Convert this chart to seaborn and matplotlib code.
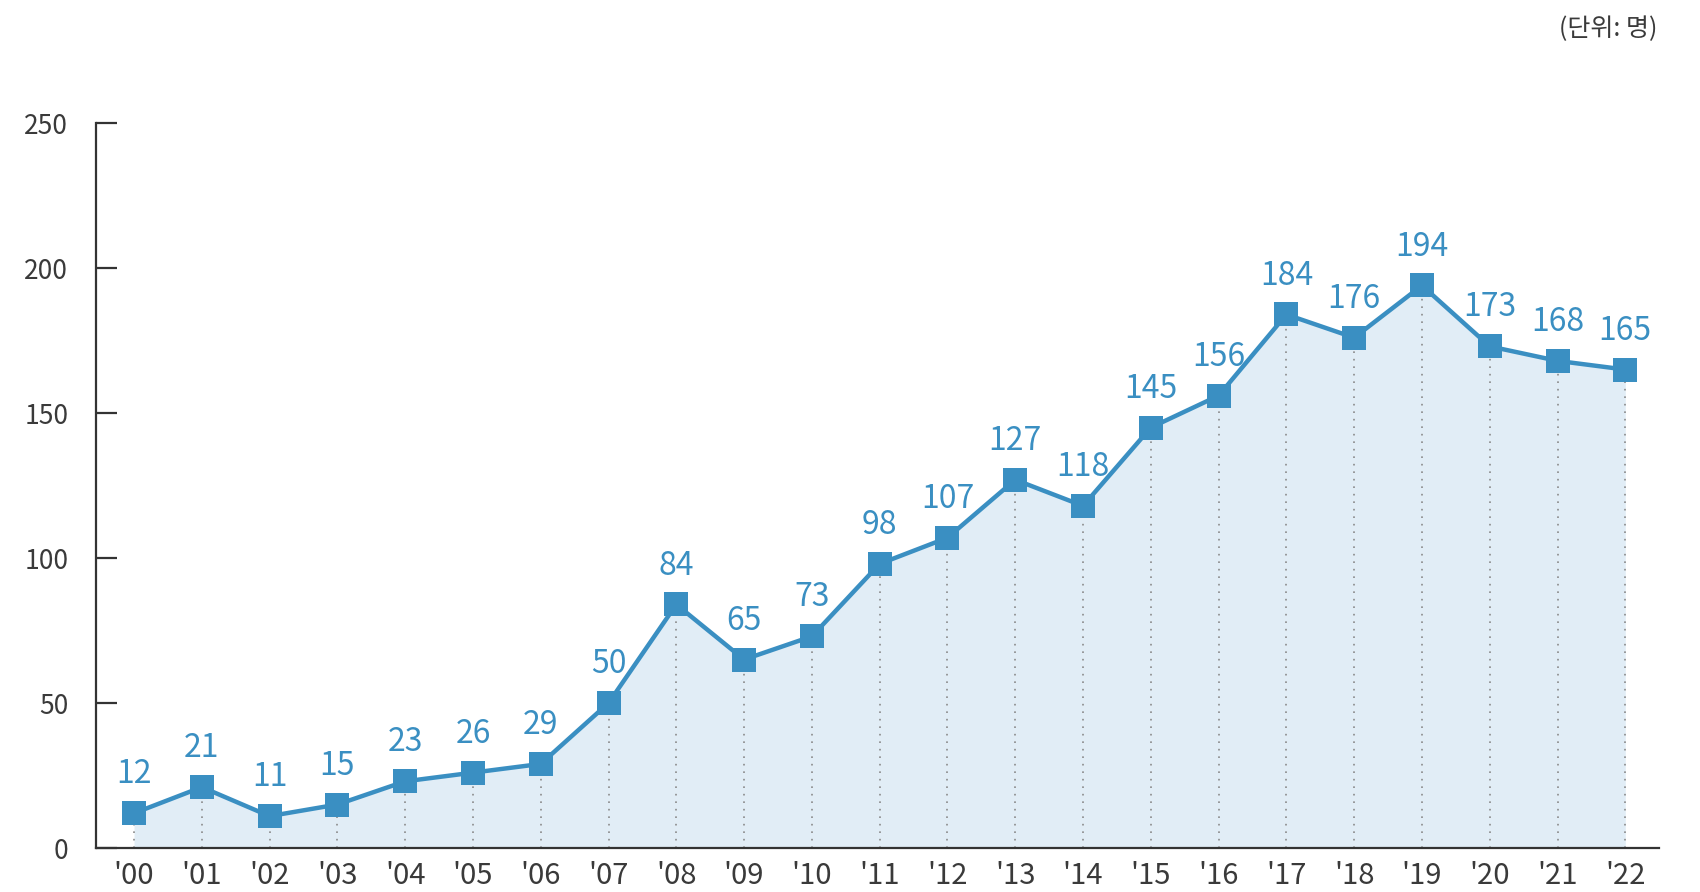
import matplotlib
matplotlib.use("Agg")
import matplotlib.pyplot as plt
import seaborn as sns
import pandas as pd

years = ["'00", "'01", "'02", "'03", "'04", "'05", "'06", "'07", "'08", "'09", "'10", "'11",
         "'12", "'13", "'14", "'15", "'16", "'17", "'18", "'19", "'20", "'21", "'22"]
counts = [12, 21, 11, 15, 23, 26, 29, 50, 84, 65, 73, 98,
          107, 127, 118, 145, 156, 184, 176, 194, 173, 168, 165]
y_ticks = [0, 50, 100, 150, 200, 250]
unit_label = "(단위: 명)"

sns.set_theme(style="white")
plt.rcParams["font.family"] = ["Noto Sans CJK KR", "DejaVu Sans"]

LINE = "#3a8fc2"
FILL = "#e1edf6"
AXIS = "#333333"
TEXT = "#3a3a3a"

df = pd.DataFrame({"pos": range(len(years)), "count": counts})

fig = plt.figure(figsize=(17, 8.92), dpi=100)
ax = fig.add_axes([0.0565, 0.0493, 0.9195, 0.8127])

ax.fill_between(df["pos"], 0, df["count"], color=FILL, linewidth=0, zorder=1)
ax.vlines(df["pos"], 0, df["count"], colors="#8a8a8a", linestyles=(0, (1, 3.5)),
          linewidth=1.2, zorder=2)
sns.lineplot(data=df, x="pos", y="count", ax=ax, color=LINE, linewidth=3.2,
             marker="s", markersize=17, markeredgewidth=0, markerfacecolor=LINE,
             zorder=3)

for x, v in zip(df["pos"], df["count"]):
    ax.annotate(str(v), (x, v), xytext=(0, 28), textcoords="offset points",
                ha="center", va="center", fontsize=23, color=LINE,
                fontweight="light")

ax.set_xlim(-0.56, 22.5)
ax.set_ylim(0, 250)
ax.set_xticks(range(len(years)))
ax.set_xticklabels(years)
ax.set_yticks(y_ticks)
ax.set_xlabel("")
ax.set_ylabel("")

for side in ("top", "right"):
    ax.spines[side].set_visible(False)
for side in ("left", "bottom"):
    ax.spines[side].set_color(AXIS)
    ax.spines[side].set_linewidth(1.6)

ax.tick_params(axis="y", direction="in", length=15, width=1.6, color=AXIS,
               labelsize=19, labelcolor=TEXT, pad=20, left=True)
ax.tick_params(axis="x", length=0, labelsize=21, labelcolor=TEXT, pad=9)
for lbl in ax.get_xticklabels() + ax.get_yticklabels():
    lbl.set_fontweight("light")
ax.grid(False)

fig.text(0.975, 0.982, unit_label, ha="right", va="top", fontsize=18, color=TEXT,
         fontweight="light")

fig.savefig("out.png", dpi=100, facecolor="white")
